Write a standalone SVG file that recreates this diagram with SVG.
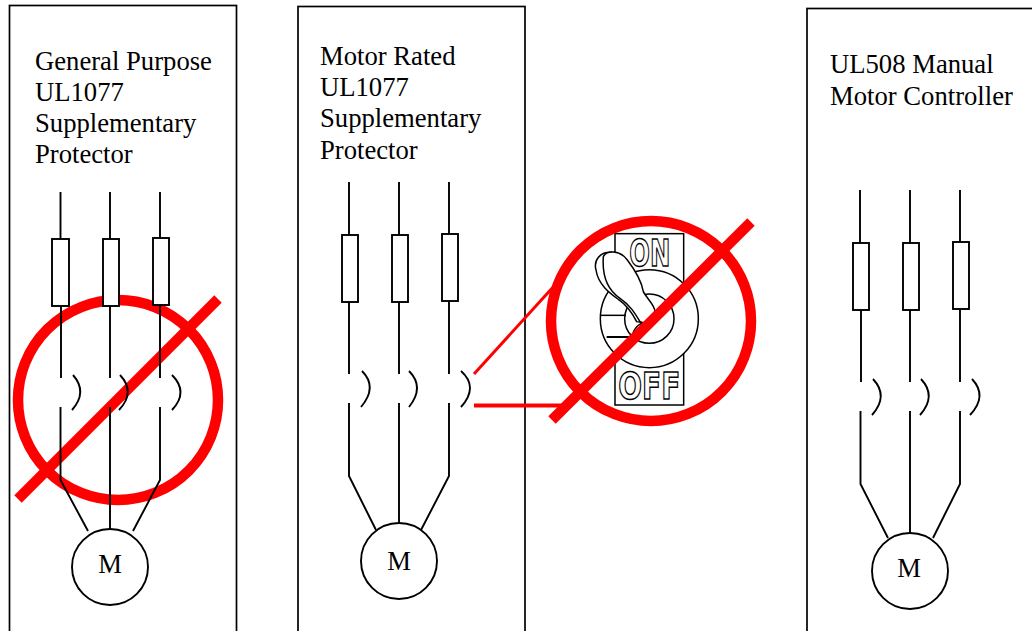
<svg xmlns="http://www.w3.org/2000/svg" width="1032" height="631" viewBox="0 0 1032 631">
<style>
.panel{fill:#fff;stroke:#000;stroke-width:1.7}
.w{fill:none;stroke:#000;stroke-width:1.9}
.f{fill:#fff;stroke:#000;stroke-width:1.9}
.m{fill:#fff;stroke:#000;stroke-width:1.9}
.r{fill:none;stroke:#f00;stroke-width:10.500}
.rl{fill:none;stroke:#f00;stroke-width:3}
text{font-family:"Liberation Serif","Times New Roman",serif;font-size:26.67px;fill:#000}
.lbl{text-anchor:middle}
.tw{fill:none;stroke:#000;stroke-width:4.5}
.tf{fill:#fff;stroke:#000;stroke-width:4.5}
.sw{font-family:"DejaVu Sans",sans-serif;font-weight:700;font-size:38px;fill:#fff;stroke:#000;stroke-width:1.5;opacity:.99}
</style>
<g id="panel-general">
<rect class="panel" x="9.5" y="5.5" width="227" height="640"/>
<text x="35" y="70">General Purpose</text>
<text x="35" y="101">UL1077</text>
<text x="35" y="132">Supplementary</text>
<text x="35" y="163">Protector</text>
</g>
<g id="panel-motor">
<rect class="panel" x="298" y="6.500" width="227" height="640"/>
<text x="320" y="65">Motor Rated</text>
<text x="320" y="96">UL1077</text>
<text x="320" y="127">Supplementary</text>
<text x="320" y="159">Protector</text>
</g>
<g id="panel-manual">
<rect class="panel" x="807" y="8.500" width="260" height="640"/>
<text x="830" y="73">UL508 Manual</text>
<text x="830" y="105">Motor Controller</text>
</g>
<g id="no-general">
<circle class="r" cx="118" cy="400" r="100"/>
<path class="r" d="M218 299L18 499"/>
</g>
<g id="connectors">
<path class="w" d="M60.500 192V239M110 192V239M160 192V238M61 306V378M110 306V378M160 305V378M60.500 407V480L88 531M110 407V531M160 407V480L133 531"/>
<path class="w" d="M73 375Q88 392 72 410M120 375Q136 392 119 410M172 375Q189 392 172 410"/>
<path class="w" d="M349 182V235M399 182V235M449 182V234M349 302V374M399 302V374M449 301V374M349 403V476L376 530M399 403V524M449 403V476L421 530"/>
<path class="w" d="M362 371Q378 387 361 407M409 371Q425 387 409 407M461 371Q479 387 461 407"/>
<path class="w" d="M860 190V243M910 190V243M960 190V242M861 310V382M910 310V382M960 309V382M860.500 411V484L888 538M910 411V533M960 411V484L933 538"/>
<path class="w" d="M873 379Q889 396 872 415M921 379Q937 396 920 415M972 379Q988 396 970 415"/>
<path class="rl" d="M474 374L555 285"/>
<path class="rl" d="M474 405.500H572" style="stroke-width:4"/>
</g>
<g id="fuses">
<rect class="f" x="52" y="239" width="17" height="67"/>
<rect class="f" x="103" y="239" width="16" height="67"/>
<rect class="f" x="153" y="238" width="16" height="67"/>
<rect class="f" x="342" y="235" width="16" height="67"/>
<rect class="f" x="392" y="235" width="16" height="67"/>
<rect class="f" x="442" y="234" width="16" height="67"/>
<rect class="f" x="853" y="243" width="16" height="67"/>
<rect class="f" x="903" y="243" width="16" height="67"/>
<rect class="f" x="953" y="242" width="16" height="67"/>
</g>
<g id="motor-general"><circle class="m" cx="110" cy="567" r="38"/><text class="lbl" x="110" y="573">M</text></g>
<g id="motor-rated"><circle class="m" cx="399" cy="561" r="38"/><text class="lbl" x="399" y="570">M</text></g>
<g id="motor-manual"><circle class="m" cx="910" cy="571" r="38"/><text class="lbl" x="909" y="577">M</text></g>
<g id="toggle-switch" transform="translate(540 210) scale(.33333)">
<rect class="tf" x="225" y="71" width="206" height="514"/>
<text class="sw" transform="translate(268 168) scale(3)" textLength="41" lengthAdjust="spacingAndGlyphs">ON</text>
<text class="sw" transform="translate(235 568) scale(3)" textLength="62" lengthAdjust="spacingAndGlyphs">OFF</text>
<circle class="tf" cx="328" cy="326" r="147"/>
<path class="tw" d="M183 316H258"/>
<path d="M200 381H278" class="tw" style="stroke-width:6"/>
<circle class="tw" cx="328" cy="326" r="74"/>
<path class="tf" d="M215 127C180 125 160 150 168 180C175 225 210 250 235 268C260 285 275 305 290 335L310 338Z"/>
<path class="tf" d="M190 140C200 120 240 120 262 150C285 180 305 215 310 245C320 265 345 285 345 305C345 325 325 340 310 338L300 335C285 310 270 285 240 265C210 245 185 210 190 140Z"/>
<path class="tw" d="M310 338C290 345 275 365 278 385"/>
</g>
<g id="no-switch">
<circle class="r" cx="651" cy="321" r="100"/>
<path class="r" d="M751 222L552 420"/>
</g>
</svg>
